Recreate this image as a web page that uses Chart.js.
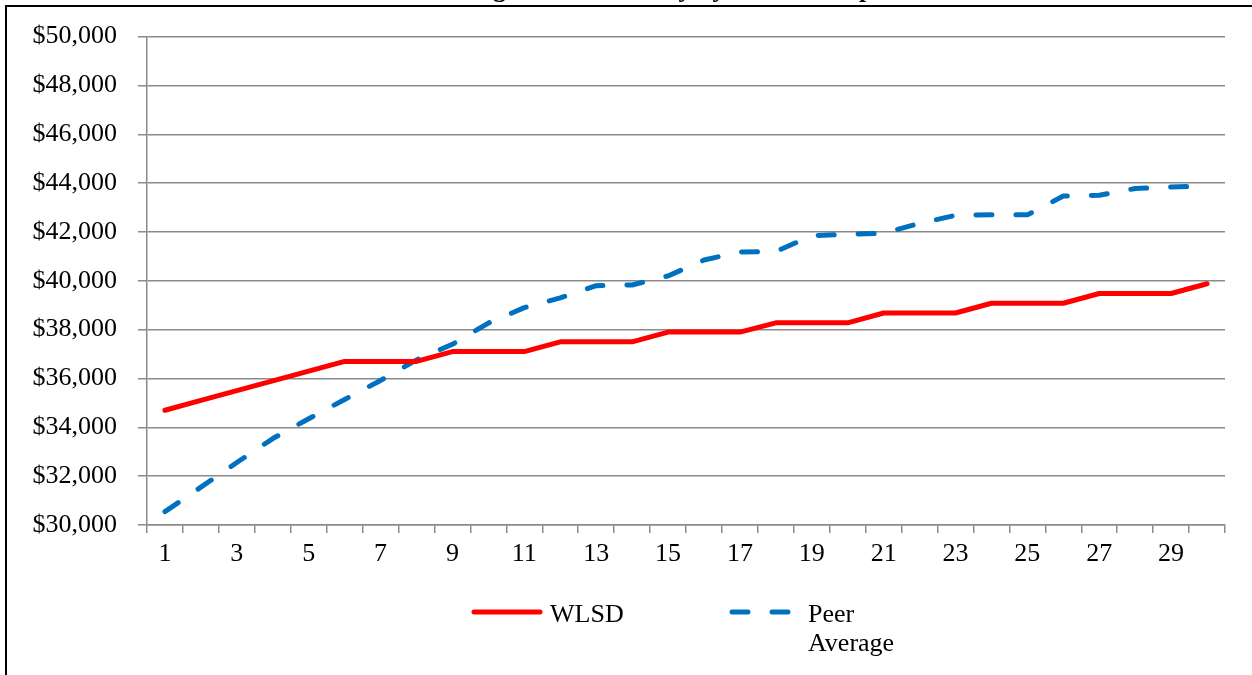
<!DOCTYPE html>
<html>
<head>
<meta charset="utf-8">
<script src="https://cdn.jsdelivr.net/npm/chart.js@4/dist/chart.umd.min.js"></script>
<style>
  html, body { margin: 0; padding: 0; background: #fff; }
  #wrap { width: 1252px; height: 675px; position: relative; }
</style>
</head>
<body>
<div id="wrap"><canvas id="salaryChart" width="1252" height="675"></canvas></div>
<script>
// years of experience (categories)
var years = ['1', '2', '3', '4', '5', '6', '7', '8', '9', '10',
             '11', '12', '13', '14', '15', '16', '17', '18', '19', '20',
             '21', '22', '23', '24', '25', '26', '27', '28', '29', '30'];

// salary by step
var wlsd = [34700, 35100, 35500, 35900, 36300, 36700, 36700, 36700, 37100, 37100,
            37100, 37500, 37500, 37500, 37900, 37900, 37900, 38280, 38280, 38280,
            38680, 38680, 38680, 39080, 39080, 39080, 39480, 39480, 39480, 39880];
var peerAverage = [30550, 31550, 32560, 33540, 34350, 35140, 35920, 36760, 37400, 38270,
                   38900, 39300, 39800, 39830, 40200, 40850, 41180, 41200, 41850, 41900,
                   41950, 42350, 42680, 42700, 42700, 43470, 43500, 43780, 43840, 43880];

var seriesNames = ['WLSD', 'Peer Average'];
var chartTitle = 'Average Teacher Salary by Years of Experience';

var yMin = 30000, yMax = 50000, yStep = 2000;

var serif = '"Liberation Serif", "Times New Roman", serif';
var gridGray = '#8a8a8a';

// frame, clipped title and legend are drawn by hand, like the excel box
var framePlugin = {
  id: 'frame',
  afterDraw: function (chart) {
    var ctx = chart.ctx;
    ctx.save();
    ctx.fillStyle = '#000';
    ctx.fillRect(5, 5, 2, chart.height - 5);//left edge of the box
    ctx.fillRect(5, 5, chart.width - 5, 2);//top edge

    // title sits mostly above the visible area
    ctx.font = 'bold 26px ' + serif;
    ctx.textAlign = 'center';
    ctx.textBaseline = 'alphabetic';
    ctx.fillText(chartTitle, 690, -3);

    // legend
    var starts = [472, 730];
    ctx.font = '26px ' + serif;
    ctx.textAlign = 'left';
    chart.data.datasets.forEach(function (ds, i) {
      var x = starts[i], y = 612;
      ctx.beginPath();
      ctx.strokeStyle = ds.borderColor;
      ctx.lineWidth = ds.borderWidth;
      ctx.lineCap = 'round';
      ctx.setLineDash(ds.borderDash || []);
      ctx.moveTo(x + 2, y);
      ctx.lineTo(x + 68, y);
      ctx.stroke();
      ctx.setLineDash([]);

      // wrap long names like excel does
      var words = ds.label.split(' ');
      var lines = [], cur = '';
      words.forEach(function (w) {
        var test = cur ? cur + ' ' + w : w;
        if (cur && ctx.measureText(test).width > 110) {
          lines.push(cur);
          cur = w;
        } else {
          cur = test;
        }
      });
      lines.push(cur);
      ctx.fillStyle = '#000';
      lines.forEach(function (line, j) {
        ctx.fillText(line, x + 78, 622 + j * 29);
      });
    });
    ctx.restore();
  }
};

var ctx = document.getElementById('salaryChart');

var salaryChart = new Chart(ctx, {
  type: 'line',
  data: {
    labels: years,
    datasets: [{
      label: seriesNames[0],
      data: wlsd,
      borderColor: '#ff0000',
      borderWidth: 5,
      borderCapStyle: 'round',
      borderJoinStyle: 'round',
      pointRadius: 0,
      tension: 0,
      fill: false
    }, {
      label: seriesNames[1],
      data: peerAverage,
      borderColor: '#0070c0',
      borderWidth: 5,
      borderDash: [16, 24],
      borderCapStyle: 'round',
      borderJoinStyle: 'round',
      pointRadius: 0,
      tension: 0,
      fill: false
    }]
  },
  options: {
    responsive: false,
    animation: false,
    events: [],
    layout: { padding: { left: 0, top: 35, right: 27, bottom: 0 } },
    plugins: {
      legend: { display: false },
      title: { display: false },
      tooltip: { enabled: false }
    },
    scales: {
      x: {
        offset: true,
        grid: {
          offset: true,
          drawOnChartArea: false,
          drawTicks: true,
          tickLength: 8,
          color: gridGray,
          lineWidth: 1.5
        },
        border: { display: true, color: gridGray, width: 1.5 },
        ticks: {
          autoSkip: false,
          maxRotation: 0,
          padding: 6,
          color: '#000',
          font: { family: serif, size: 26 },
          callback: function (val, i) {
            return i % 2 === 0 ? years[i] : '';
          }
        },
        afterFit: function (scale) { scale.height = 150; }
      },
      y: {
        min: yMin,
        max: yMax,
        grid: {
          color: gridGray,
          lineWidth: 1.5,
          drawTicks: true,
          tickLength: 9
        },
        border: { display: true, color: gridGray, width: 1.5 },
        ticks: {
          stepSize: yStep,
          padding: 21,
          color: '#000',
          font: { family: serif, size: 26 },
          callback: function (v) { return '$' + v.toLocaleString('en-US'); }
        },
        afterFit: function (scale) { scale.width = 147; }
      }
    }
  },
  plugins: [framePlugin]
});
</script>
</body>
</html>
